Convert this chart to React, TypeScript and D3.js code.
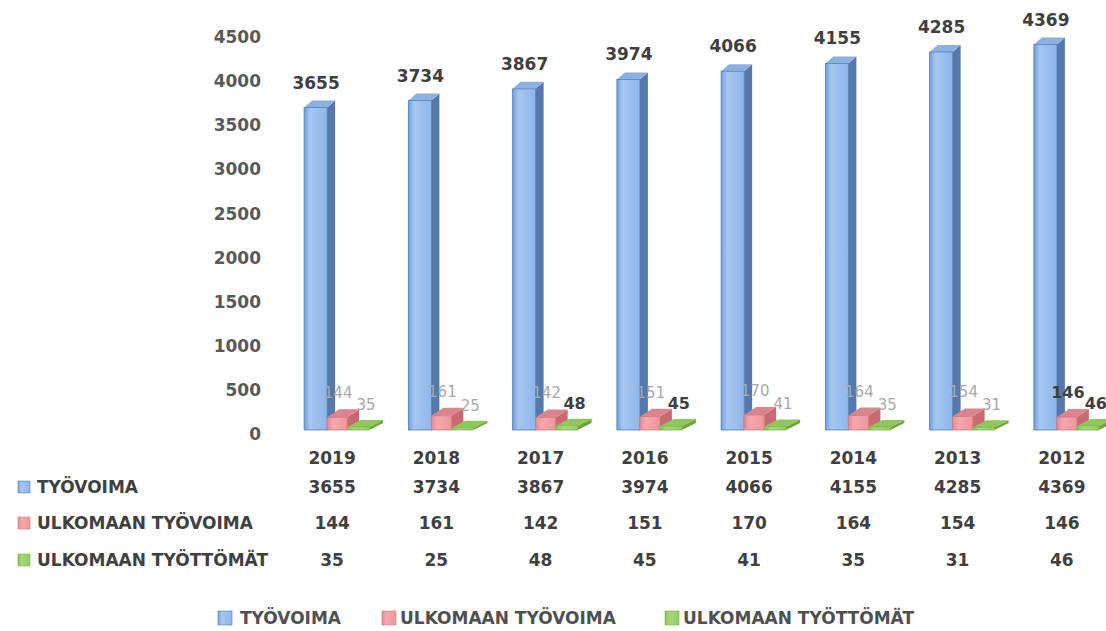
import React from "react";
import * as d3 from "d3";

const years = ["2019", "2018", "2017", "2016", "2015", "2014", "2013", "2012"];
const tyovoima = [3655, 3734, 3867, 3974, 4066, 4155, 4285, 4369];
const ulkTyovoima = [144, 161, 142, 151, 170, 164, 154, 146];
const ulkTyottomat = [35, 25, 48, 45, 41, 35, 31, 46];
const yTicks = [0, 500, 1000, 1500, 2000, 2500, 3000, 3500, 4000, 4500];
const seriesNames = ["TYÖVOIMA", "ULKOMAAN TYÖVOIMA", "ULKOMAAN TYÖTTÖMÄT"];

const W = 1106;
const H = 631;
const FONT = "'DejaVu Sans', Verdana, sans-serif";

const palette = [
  { front: "url(#gBlue)", side: "#5479aa", top: "#8cb0e0", edge: "#4f7fbf" },
  { front: "url(#gRed)", side: "#c86a70", top: "#d9858b", edge: "#d27a80" },
  { front: "url(#gGreen)", side: "#6fa63c", top: "#8fc75c", edge: "#7ab54a" },
];

// geometry of each series within a band (style, not data)
const geom = [
  { off: -28, w: 23, dx: 8, dy: -7 },
  { off: -5, w: 20, dx: 12, dy: -8 },
  { off: 15, w: 22, dx: 14, dy: -7 },
];

// which small labels are drawn dark (as they appear in the picture)
const darkRed = new Set(["2012"]);
const darkGreen = new Set(["2017", "2016", "2012"]);

function Bar3D({ x0, w, yTop, yBase, dx, dy, c }: any) {
  const h = Math.max(yBase - yTop, 0.5);
  return (
    <g>
      <polygon
        points={`${x0 + w},${yTop} ${x0 + w + dx},${yTop + dy} ${x0 + w + dx},${yBase + dy} ${x0 + w},${yBase}`}
        fill={c.side}
      />
      <polygon
        points={`${x0},${yTop} ${x0 + dx},${yTop + dy} ${x0 + w + dx},${yTop + dy} ${x0 + w},${yTop}`}
        fill={c.top}
      />
      <rect x={x0} y={yTop} width={w} height={h} fill={c.front} stroke={c.edge} strokeWidth={0.8} />
    </g>
  );
}

export default function App() {
  const x = d3.scaleBand<string>().domain(years).range([280, 1114]).padding(0);
  const y = d3.scaleLinear().domain([0, 4500]).range([434, 37]);
  const shift = -4;
  const series = [tyovoima, ulkTyovoima, ulkTyottomat];
  const cx = (yr: string) => (x(yr) as number) + x.bandwidth() / 2;

  const rowY = [487, 523, 560];
  const legendItems = [
    { mx: 218, tx: 240 },
    { mx: 382, tx: 400 },
    { mx: 665, tx: 683 },
  ];

  return (
    <svg width={W} height={H} style={{ position: "absolute", left: 0, top: 0, background: "#fff" }}>
      <defs>
        <linearGradient id="gBlue" x1="0" x2="1" y1="0" y2="0">
          <stop offset="0" stopColor="#6f9fdc" />
          <stop offset="0.25" stopColor="#a6c6f0" />
          <stop offset="1" stopColor="#8fb6ea" />
        </linearGradient>
        <linearGradient id="gRed" x1="0" x2="1" y1="0" y2="0">
          <stop offset="0" stopColor="#e88890" />
          <stop offset="0.3" stopColor="#f6a8ae" />
          <stop offset="1" stopColor="#ee959c" />
        </linearGradient>
        <linearGradient id="gGreen" x1="0" x2="1" y1="0" y2="0">
          <stop offset="0" stopColor="#86c24e" />
          <stop offset="0.3" stopColor="#a8d77a" />
          <stop offset="1" stopColor="#96cd62" />
        </linearGradient>
      </defs>

      {/* y tick labels */}
      {yTicks.map((t) => (
        <text
          key={t}
          x={261}
          y={y(t)}
          dy="0.36em"
          textAnchor="end"
          fontFamily={FONT}
          fontWeight="bold"
          fontSize={17}
          fill="#595959"
        >
          {t}
        </text>
      ))}

      {/* bars */}
      {years.map((yr, i) => (
        <g key={yr}>
          {series.map((s, k) => (
            <Bar3D
              key={k}
              x0={cx(yr) + geom[k].off}
              w={geom[k].w}
              yTop={y(s[i]) + shift}
              yBase={y(0) + shift}
              dx={geom[k].dx}
              dy={geom[k].dy}
              c={palette[k]}
            />
          ))}
        </g>
      ))}

      {/* data labels */}
      {years.map((yr, i) => (
        <g key={"l" + yr} fontFamily={FONT}>
          <text
            x={cx(yr) - 16}
            y={y(tyovoima[i]) - 23}
            textAnchor="middle"
            fontWeight="bold"
            fontSize={17}
            fill="#404040"
          >
            {tyovoima[i]}
          </text>
          <text
            x={cx(yr) + 6}
            y={y(ulkTyovoima[i]) - 23}
            textAnchor="middle"
            fontWeight={darkRed.has(yr) ? "bold" : "normal"}
            fontSize={darkRed.has(yr) ? 16 : 15}
            fill={darkRed.has(yr) ? "#404040" : "#a8a8a8"}
          >
            {ulkTyovoima[i]}
          </text>
          <text
            x={cx(yr) + 34}
            y={y(ulkTyottomat[i]) - 21}
            textAnchor="middle"
            fontWeight={darkGreen.has(yr) ? "bold" : "normal"}
            fontSize={darkGreen.has(yr) ? 16 : 15}
            fill={darkGreen.has(yr) ? "#404040" : "#a8a8a8"}
          >
            {ulkTyottomat[i]}
          </text>
        </g>
      ))}

      {/* data table: years */}
      {years.map((yr) => (
        <text
          key={"y" + yr}
          x={cx(yr)}
          y={458}
          dy="0.36em"
          textAnchor="middle"
          fontFamily={FONT}
          fontWeight="bold"
          fontSize={17}
          fill="#404040"
        >
          {yr}
        </text>
      ))}

      {/* data table rows */}
      {series.map((s, k) => (
        <g key={"row" + k} fontFamily={FONT} fontWeight="bold" fontSize={17} fill="#404040">
          <rect x={18} y={rowY[k] - 6} width={12} height={12} fill={palette[k].front} stroke={palette[k].edge} strokeWidth={0.6} />
          <text x={37} y={rowY[k]} dy="0.36em">
            {seriesNames[k]}
          </text>
          {years.map((yr, i) => (
            <text key={yr} x={cx(yr)} y={rowY[k]} dy="0.36em" textAnchor="middle">
              {s[i]}
            </text>
          ))}
        </g>
      ))}

      {/* legend */}
      {legendItems.map((li, k) => (
        <g key={"lg" + k} fontFamily={FONT} fontWeight="bold" fontSize={17} fill="#505050">
          <rect x={li.mx} y={611} width={14} height={14} fill={palette[k].front} stroke={palette[k].edge} strokeWidth={0.6} />
          <text x={li.tx} y={618} dy="0.36em">
            {seriesNames[k]}
          </text>
        </g>
      ))}
    </svg>
  );
}
